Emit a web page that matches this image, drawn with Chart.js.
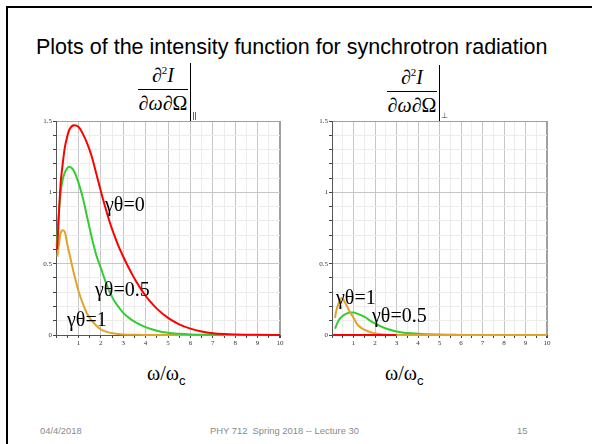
<!DOCTYPE html>
<html>
<head>
<meta charset="utf-8">
<script src="https://cdn.jsdelivr.net/npm/chart.js@4.4.1/dist/chart.umd.min.js"></script>
<style>
    body { margin: 0; width: 592px; height: 444px; background: #fff; position: relative; overflow: hidden;
           font-family: "Liberation Sans", Arial, sans-serif; }
    .abs { position: absolute; white-space: nowrap; }
    .serif { font-family: "Liberation Serif", "Times New Roman", serif; line-height: 1; }
    .frame { position: absolute; left: 6px; top: 6px; width: 600px; height: 460px;
             border-top: 2px solid #000; border-left: 2px solid #000; }
    .title { left: 36px; top: 37px; font-size: 21.5px; color: #000; line-height: 1; }
    .num, .den { font-size: 20px; text-align: center; width: 50px; }
    .rule { background: #000; height: 1px; }
    .bar { background: #000; width: 1px; }
    .sub { background: #666; width: 1px; height: 8px; }
    .ann { font-size: 20px; color: #000; z-index: 5; }
    .xt { font-size: 20px; }
    .xt span { font-family: "Liberation Sans", Arial, sans-serif; font-size: 13px; position: relative; top: 5px; }
    .foot { font-size: 9.4px; color: #8a8a8a; top: 426px; line-height: 1; }
    canvas { position: absolute; }
</style>
</head>
<body>
<div class="frame"></div>
<div class="abs title">Plots of the intensity function for synchrotron radiation</div>

<!-- left formula -->
<div class="abs serif num" style="left:138px; top:65px">&part;<sup style="font-size:11px">2</sup><i>I</i></div>
<div class="abs rule" style="left:138px; top:89px; width:50px"></div>
<div class="abs serif den" style="left:138px; top:93px">&part;<i>&omega;</i>&part;&Omega;</div>
<div class="abs bar" style="left:190px; top:63px; height:58px"></div>
<div class="abs sub" style="left:193px; top:112px"></div>
<div class="abs sub" style="left:195px; top:112px"></div>

<!-- right formula -->
<div class="abs serif num" style="left:387px; top:67px">&part;<sup style="font-size:11px">2</sup><i>I</i></div>
<div class="abs rule" style="left:387px; top:91px; width:50px"></div>
<div class="abs serif den" style="left:387px; top:95px">&part;<i>&omega;</i>&part;&Omega;</div>
<div class="abs bar" style="left:439px; top:65px; height:56px"></div>
<div class="abs serif" style="left:441px; top:112px; font-size:8px; color:#444">&perp;</div>

<canvas id="left" width="270" height="240" style="left:20px; top:111px"></canvas>
<canvas id="right" width="261" height="240" style="left:296px; top:111px"></canvas>

<div class="abs serif ann" style="left:105px; top:194px">&gamma;&theta;=0</div>
<div class="abs serif ann" style="left:95px; top:279px">&gamma;&theta;=0.5</div>
<div class="abs serif ann" style="left:67px; top:309px">&gamma;&theta;=1</div>
<div class="abs serif ann" style="left:336px; top:287px">&gamma;&theta;=1</div>
<div class="abs serif ann" style="left:372px; top:305px">&gamma;&theta;=0.5</div>

<div class="abs serif xt" style="left:147px; top:363px">&omega;/&omega;<span>c</span></div>
<div class="abs serif xt" style="left:385px; top:363px">&omega;/&omega;<span>c</span></div>

<div class="abs foot" style="left:40px">04/4/2018</div>
<div class="abs foot" style="left:210px">PHY 712&nbsp; Spring 2018 -- Lecture 30</div>
<div class="abs foot" style="left:517px">15</div>

<script>
// parallel polarisation (left panel)
const redParX   = [0.05, 0.1, 0.2, 0.3, 0.4, 0.5, 0.6, 0.8, 1.0, 1.2, 1.4, 1.6, 1.8, 2.0, 2.2, 2.4, 2.6, 2.8, 3.0, 3.2, 3.4, 3.6, 3.8, 4.0, 4.2, 4.5, 5.0, 5.5, 6.0, 6.5, 7.0, 7.5, 8.0, 9.0, 10];
const redParY   = [0.6, 0.75, 1.05, 1.2, 1.32, 1.39, 1.44, 1.47, 1.46, 1.41, 1.34, 1.25, 1.13, 1.01, 0.895, 0.79, 0.70, 0.62, 0.55, 0.485, 0.425, 0.37, 0.32, 0.275, 0.235, 0.185, 0.12, 0.075, 0.045, 0.025, 0.013, 0.007, 0.004, 0.001, 0];
const greenParX = [0.03, 0.1, 0.2, 0.3, 0.4, 0.5, 0.6, 0.7, 0.8, 1.0, 1.2, 1.4, 1.6, 1.8, 2.0, 2.2, 2.4, 2.6, 2.8, 3.0, 3.3, 3.6, 4.0, 4.5, 5.0, 5.5, 6.0, 7.0, 7.5];
const greenParY = [0.62, 0.8, 0.99, 1.09, 1.14, 1.17, 1.18, 1.17, 1.15, 1.07, 0.96, 0.82, 0.68, 0.56, 0.47, 0.38, 0.3, 0.24, 0.195, 0.155, 0.115, 0.085, 0.055, 0.03, 0.015, 0.008, 0.004, 0.001, 0];
const goldParX  = [0.06, 0.1, 0.2, 0.3, 0.4, 0.5, 0.6, 0.7, 0.8, 0.9, 1.0, 1.2, 1.4, 1.6, 1.8, 2.0, 2.3, 2.6, 3.0, 3.5, 4.0, 10];
const goldParY  = [0.55, 0.6, 0.71, 0.735, 0.72, 0.64, 0.57, 0.5, 0.43, 0.37, 0.31, 0.22, 0.145, 0.1, 0.065, 0.04, 0.02, 0.01, 0.004, 0.001, 0, 0];

// perpendicular polarisation (right panel)
const redPerpX   = [0.05, 3.0];
const redPerpY   = [0, 0];
const greenPerpX = [0.14, 0.3, 0.5, 0.7, 0.85, 1.0, 1.2, 1.5, 1.9, 2.5, 3.2, 4.0, 5.0, 6.0];
const greenPerpY = [0.045, 0.1, 0.135, 0.152, 0.158, 0.157, 0.148, 0.128, 0.088, 0.046, 0.02, 0.009, 0.003, 0];
const goldPerpX  = [0.14, 0.2, 0.3, 0.45, 0.6, 0.8, 1.0, 1.2, 1.5, 1.9, 2.4, 3.0, 10];
const goldPerpY  = [0.12, 0.17, 0.22, 0.26, 0.23, 0.17, 0.12, 0.07, 0.037, 0.015, 0.004, 0, 0];

const xMin = 0, xMax = 10, xStep = 0.5;
const yMin = 0, yMax = 1.5, yStep = 0.1;

const RED = '#ff0000', GREEN = '#33cc33', GOLD = '#e1a42a';

const pts = (xs, ys) => xs.map((x, i) => ({ x: x, y: ys[i] }));

function line(xs, ys, color) {
    return {
        data: pts(xs, ys),
        borderColor: color,
        borderWidth: 2,
        pointRadius: 0,
        fill: false,
        cubicInterpolationMode: 'monotone',
        clip: false
    };
}

const tickFont = { family: '"Liberation Serif", "Times New Roman", serif', size: 7 };

function options() {
    return {
        responsive: false,
        animation: false,
        devicePixelRatio: 1,
        layout: { padding: { left: 0, right: 10, top: 10, bottom: 0 } },
        plugins: { legend: { display: false }, tooltip: { enabled: false } },
        scales: {
            x: {
                type: 'linear', min: xMin, max: xMax,
                afterFit: s => { s.height = 16; },
                ticks: {
                    stepSize: xStep, autoSkip: false, maxRotation: 0, padding: 1,
                    color: '#333', font: tickFont,
                    callback: v => (Number.isInteger(v) && v > 0) ? String(v) : ''
                },
                grid: {
                    color: c => {
                        const v = c.tick ? c.tick.value : 0;
                        if (v === xMax) return '#a0a0a0';
                        return Number.isInteger(v) ? '#c6c6c6' : '#ececec';
                    },
                    lineWidth: c => (c.tick && c.tick.value === xMax) ? 2 : 1,
                    tickColor: '#444', tickLength: 3
                },
                border: { color: '#555', width: 1 }
            },
            y: {
                type: 'linear', min: yMin, max: yMax,
                afterFit: s => { s.width = 36; },
                ticks: {
                    stepSize: yStep, autoSkip: false, padding: 1,
                    color: '#333', font: tickFont,
                    callback: v => {
                        const k = Math.round(v * 10);
                        return k % 5 === 0 ? String(k / 10) : '';
                    }
                },
                grid: {
                    color: c => {
                        const k = c.tick ? Math.round(c.tick.value * 10) : 0;
                        if (k === 15) return '#a0a0a0';
                        return k % 5 === 0 ? '#c6c6c6' : '#ececec';
                    },
                    tickColor: '#444', tickLength: 3
                },
                border: { color: '#555', width: 1 }
            }
        }
    };
}

new Chart(document.getElementById('left'), {
    type: 'line',
    data: {
        datasets: [
            line(redParX, redParY, RED),
            line(greenParX, greenParY, GREEN),
            line(goldParX, goldParY, GOLD)
        ]
    },
    options: options()
});

new Chart(document.getElementById('right'), {
    type: 'line',
    data: {
        datasets: [
            line(redPerpX, redPerpY, RED),
            line(goldPerpX, goldPerpY, GOLD),
            line(greenPerpX, greenPerpY, GREEN)
        ]
    },
    options: options()
});
</script>
</body>
</html>
